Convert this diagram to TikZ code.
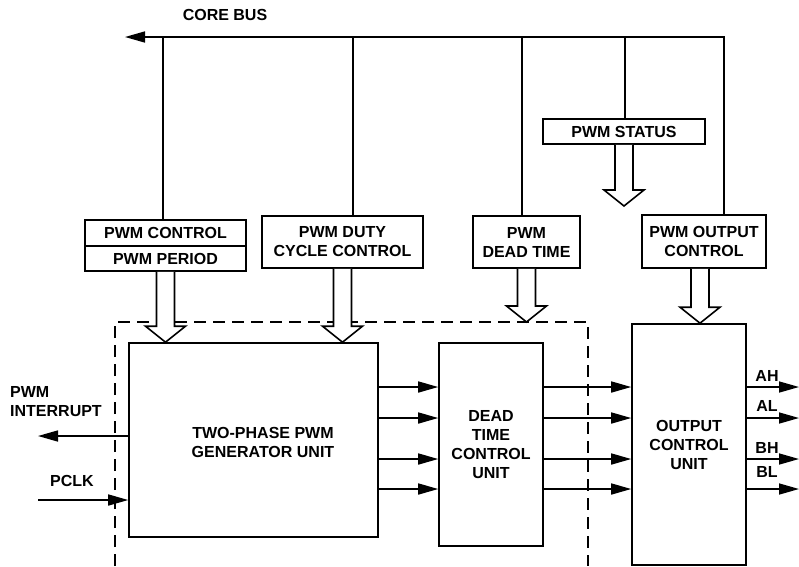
\documentclass[tikz,border=0pt]{standalone}
\usepackage{fontspec}
\setmainfont{Liberation Sans}
\usetikzlibrary{arrows.meta,calc}

% hollow block arrow from #1 (tail) down to #2 (tip)
\newcommand{\fatarrow}[2]{%
  \draw[fat] ($(#1)+(-9,0)$) -- ($(#2)+(-9,-16)$) -- ($(#2)+(-20,-16)$) -- (#2)
    -- ($(#2)+(20,-16)$) -- ($(#2)+(9,-16)$) -- ($(#1)+(9,0)$);}

\begin{document}
\begin{tikzpicture}[x=1pt, y=-1pt,
    txt/.style={font=\bfseries\fontsize{16}{19}\selectfont, align=center, inner sep=0pt},
    reg/.style={txt, draw, line width=1.6pt},
    fat/.style={draw, line width=1.6pt, fill=white, line join=miter},
    bus/.style={line width=1.6pt, line join=miter},
    sig/.style={line width=1.6pt, -{Triangle[length=20pt,width=11pt]}},
    frame/.style={line width=1.6pt, dash pattern=on 12pt off 7pt}
]
\useasboundingbox (0,0) rectangle (799,566);

% registers
\node[reg, minimum width=161, minimum height=26] (ctrl) at (165.5,233) {PWM CONTROL};
\node[reg, minimum width=161, minimum height=25] (period) at (165.5,258.5) {PWM PERIOD};
\node[reg, minimum width=161, minimum height=52] (duty) at (342.5,242) {PWM DUTY\\CYCLE CONTROL};
\node[reg, minimum width=107, minimum height=52] (dead) at (526.5,242) {PWM\\DEAD TIME};
\node[reg, minimum width=124, minimum height=53] (outc) at (704,241.5) {PWM OUTPUT\\CONTROL};
\node[reg, minimum width=162, minimum height=25] (status) at (624,131.5) {PWM STATUS};

% units
\node[reg, minimum width=249, minimum height=194] (gen) at (253.5,440) {};
\node[txt] at (263,442) {TWO-PHASE PWM\\GENERATOR UNIT};
\node[reg, minimum width=104, minimum height=203] (dtu) at (491,444.5) {DEAD\\TIME\\CONTROL\\UNIT};
\node[reg, minimum width=114, minimum height=241] (ocu) at (689,444.5) {OUTPUT\\CONTROL\\UNIT};

% dashed frame
\draw[frame] (115,566) -- (115,322) -- (588,322) -- (588,566);

% core bus
\node[txt] (corebus) at (225,15) {CORE BUS};
\coordinate (busL) at (125,37);
\coordinate (busR) at (724,37);
\coordinate (b1) at (163,37);
\coordinate (b2) at (353,37);
\coordinate (b3) at (522,37);
\coordinate (b4) at (625,37);
\draw[sig, bus] (outc.north -| busR) -- (busR) -- (busL);
\draw[bus] (b1) -- (b1 |- ctrl.north);
\draw[bus] (b2) -- (b2 |- duty.north);
\draw[bus] (b3) -- (b3 |- dead.north);
\draw[bus] (b4) -- (b4 |- status.north);

% block arrows
\coordinate (ox) at (700,0);
\coordinate (f1) at (period.south |- gen.north);
\coordinate (f2) at (duty.south |- gen.north);
\coordinate (f3) at (dead.south |- 0,322);
\coordinate (f4s) at (outc.south -| ox);
\coordinate (f4) at (ocu.north -| ox);
\coordinate (f5) at (status.south |- 0,206);
\fatarrow{period.south}{f1}
\fatarrow{duty.south}{f2}
\fatarrow{dead.south}{f3}
\fatarrow{f4s}{f4}
\fatarrow{status.south}{f5}

% signals between units
\foreach \y in {387,418,459,489} {
  \draw[sig] (gen.east |- 0,\y) -- (dtu.west |- 0,\y);
  \draw[sig] (dtu.east |- 0,\y) -- (ocu.west |- 0,\y);
}

% outputs
\coordinate (ah) at (799,387);
\coordinate (al) at (799,418);
\coordinate (bh) at (799,459);
\coordinate (bl) at (799,489);
\draw[sig] (ocu.east |- ah) -- (ah);
\draw[sig] (ocu.east |- al) -- (al);
\draw[sig] (ocu.east |- bh) -- (bh);
\draw[sig] (ocu.east |- bl) -- (bl);
\node[txt] at (767,376) {AH};
\node[txt] at (767,406) {AL};
\node[txt] at (767,448) {BH};
\node[txt] at (767,472) {BL};

% left side
\coordinate (irq) at (38,436);
\coordinate (clk) at (38,500);
\draw[sig] (gen.west |- irq) -- (irq);
\draw[sig] (clk) -- (gen.west |- clk);
\node[txt, anchor=west, align=left] at (10,402) {PWM\\INTERRUPT};
\node[txt] at (72,481) {PCLK};
\end{tikzpicture}
\end{document}
